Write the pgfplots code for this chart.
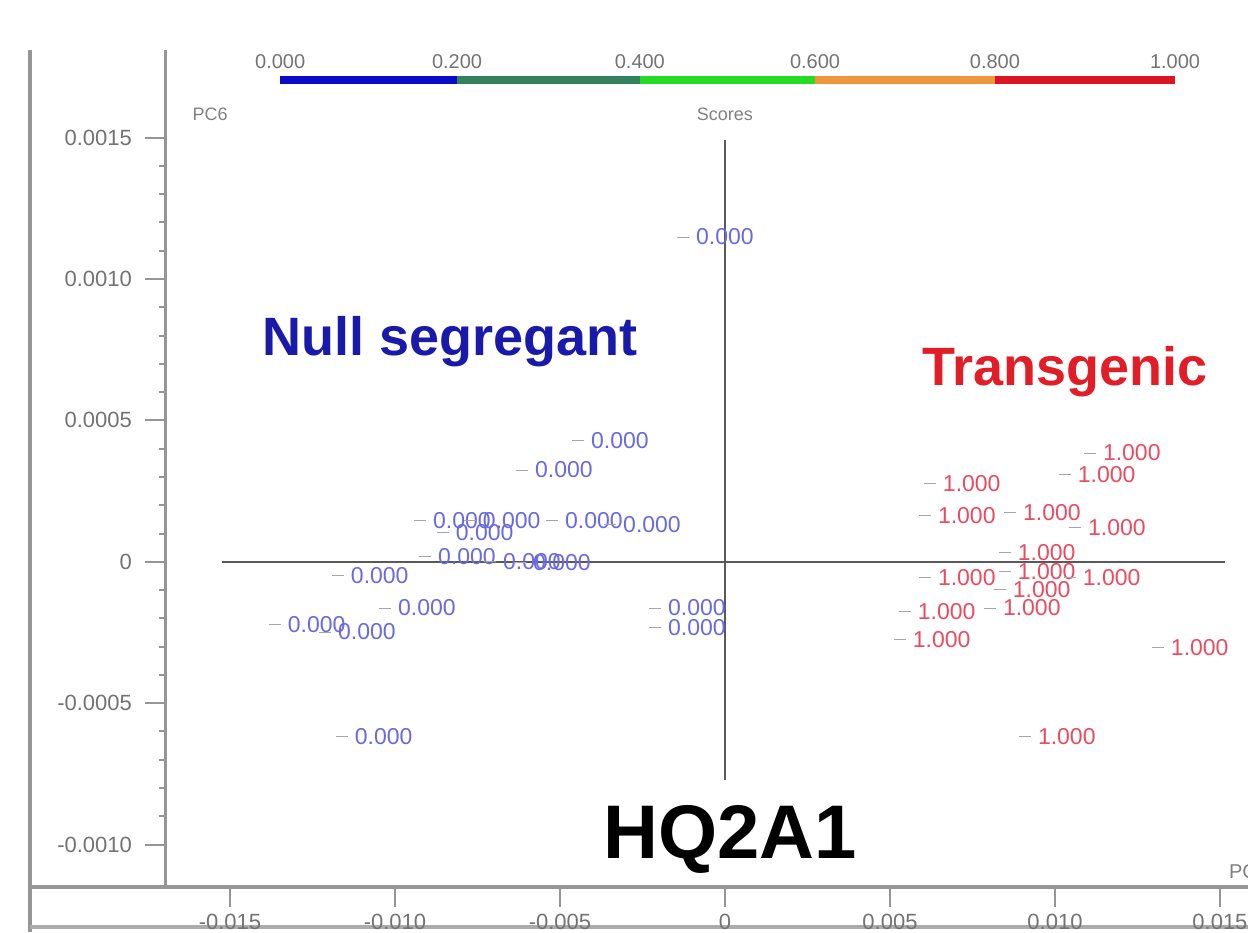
\documentclass[border=0pt]{standalone}
\usepackage{pgfplots}
\pgfplotsset{compat=1.18}
\usepackage{pgfplotstable}
\usepackage{fontspec}
\setmainfont{Liberation Sans}

\definecolor{nullblue}{RGB}{105,105,225}
\definecolor{transred}{RGB}{235,75,95}
\definecolor{titleblue}{RGB}{25,25,170}
\definecolor{titlered}{RGB}{225,30,40}
\definecolor{cbblue}{RGB}{10,10,200}
\definecolor{cbteal}{RGB}{50,130,95}
\definecolor{cbgreen}{RGB}{35,220,35}
\definecolor{cborange}{RGB}{240,150,60}
\definecolor{cbred}{RGB}{220,20,35}
\definecolor{axgray}{RGB}{150,150,150}

\pgfplotstableread{
x y
-0.00127 0.001149
-0.00445 0.000428
-0.00615 0.000325
-0.00924 0.000145
-0.00773 0.000145
-0.00524 0.000145
-0.00348 0.000131
-0.00855 0.000103
-0.00909 0.0000177
-0.00712 0.0000000
-0.00621 -0.0000035
-0.01173 -0.0000495
-0.01030 -0.000163
-0.01364 -0.000223
-0.01212 -0.000248
-0.00212 -0.000163
-0.00212 -0.000233
-0.01161 -0.000619
}\nulltab

\pgfplotstableread{
x y
0.01106 0.000385
0.01030 0.000308
0.00621 0.000276
0.00606 0.000163
0.00864 0.000173
0.01061 0.000120
0.00848 0.0000318
0.00606 -0.0000566
0.00848 -0.0000354
0.01045 -0.0000566
0.00833 -0.0000990
0.00545 -0.000177
0.00803 -0.000163
0.00530 -0.000276
0.01312 -0.000304
0.00909 -0.000619
}\transtab

\begin{document}
\begin{tikzpicture}[x=1pt,y=1pt]
\useasboundingbox (0,0) rectangle (624,466);
\draw[axgray, line width=2pt] (15,0) -- (15,441);
\draw[axgray, line width=2pt] (15,22.5) -- (624,22.5);
\draw[axgray!80, line width=1.5pt] (15,2.5) -- (624,2.5);
\begin{axis}[
  at={(82.5pt,22.5pt)}, anchor=south west,
  width=541.5pt, height=418.5pt, scale only axis,
  xmin=-0.01697, xmax=0.01585, ymin=-0.00115, ymax=0.00181,
  axis x line*=bottom, axis y line*=left,
  axis line style={axgray, line width=1.5pt},
  xtick={-0.015,-0.01,-0.005,0,0.005,0.01,0.015},
  xticklabels={-0.015,-0.010,-0.005,0,0.005,0.010,0.015},
  ytick={-0.001,-0.0005,0,0.0005,0.001,0.0015},
  yticklabels={-0.0010,-0.0005,0,0.0005,0.0010,0.0015},
  minor y tick num=4,
  tick align=outside,
  major tick length=10pt, minor tick length=3pt,
  tick style={axgray, line width=1pt},
  ticklabel style={font=\fontsize{11}{12}\selectfont, text=black!55},
  yticklabel style={xshift=-3pt},
  /pgf/number format/assume math mode=true,
  scaled ticks=false,
  clip=false,
]
% inner cross lines
\addplot[black!65, line width=1pt] coordinates {(-0.01524,0) (0.01515,0)};
\addplot[black!65, line width=1pt] coordinates {(0,0.001492) (0,-0.000771)};

% colour scale
\draw[line width=4pt, cbblue]   (axis cs:-0.01348,0.001704) -- (axis cs:-0.00812,0.001704);
\draw[line width=4pt, cbteal]   (axis cs:-0.00812,0.001704) -- (axis cs:-0.00258,0.001704);
\draw[line width=4pt, cbgreen]  (axis cs:-0.00258,0.001704) -- (axis cs:0.00273,0.001704);
\draw[line width=4pt, cborange] (axis cs:0.00273,0.001704) -- (axis cs:0.00818,0.001704);
\draw[line width=4pt, cbred]    (axis cs:0.00818,0.001704) -- (axis cs:0.01364,0.001704);
\node[font=\fontsize{10}{11}\selectfont, text=black!55] at (axis cs:-0.01348,0.001768) {0.000};
\node[font=\fontsize{10}{11}\selectfont, text=black!55] at (axis cs:-0.00812,0.001768) {0.200};
\node[font=\fontsize{10}{11}\selectfont, text=black!55] at (axis cs:-0.00258,0.001768) {0.400};
\node[font=\fontsize{10}{11}\selectfont, text=black!55] at (axis cs:0.00273,0.001768) {0.600};
\node[font=\fontsize{10}{11}\selectfont, text=black!55] at (axis cs:0.00818,0.001768) {0.800};
\node[font=\fontsize{10}{11}\selectfont, text=black!55] at (axis cs:0.01364,0.001768) {1.000};
\node[font=\fontsize{9}{10}\selectfont, text=black!50] at (axis cs:-0.0156,0.001584) {PC6};
\node[font=\fontsize{9}{10}\selectfont, text=black!50] at (axis cs:0,0.001584) {Scores};
\node[font=\fontsize{10}{11}\selectfont, text=black!50, anchor=west] at (axis cs:0.01506,-0.001096) {PC};

% points
\addplot[only marks, mark=-, mark size=3pt, black!35,
  nodes near coords={0.000},
  every node near coord/.append style={anchor=west, xshift=3pt, yshift=0pt,
    font=\fontsize{11.5}{12}\selectfont, text=nullblue}]
  table[x=x,y=y] {\nulltab};
\addplot[only marks, mark=-, mark size=3pt, black!35,
  nodes near coords={1.000},
  every node near coord/.append style={anchor=west, xshift=3pt, yshift=0pt,
    font=\fontsize{11.5}{12}\selectfont, text=transred}]
  table[x=x,y=y] {\transtab};

% annotations
\node[font=\fontsize{27}{30}\selectfont\bfseries, text=titleblue] at (axis cs:-0.00833,0.000778) {Null segregant};
\node[font=\fontsize{27}{30}\selectfont\bfseries, text=titlered] at (axis cs:0.0103,0.000672) {Transgenic};
\node[font=\fontsize{38}{40}\selectfont\bfseries, text=black] at (axis cs:0.00015,-0.000983) {HQ2A1};
\end{axis}
\end{tikzpicture}
\end{document}
